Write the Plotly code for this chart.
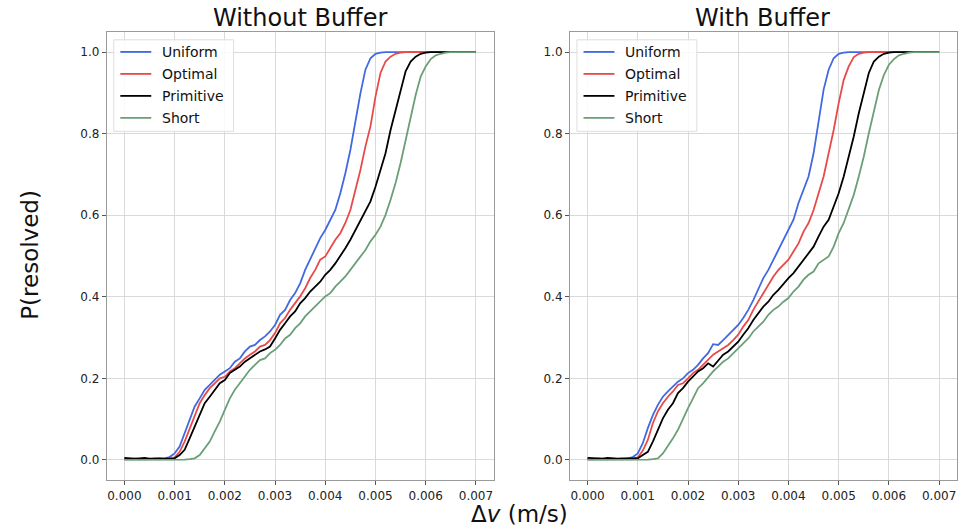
import numpy as np
import plotly.graph_objects as go

# delta-v grid (m/s), step 0.0001
dv = np.round(np.arange(0, 0.00705, 0.0001), 4)

# ---- Without Buffer ----
wo_uniform = [0.003, 0.002, 0.003, 0.002, 0.003, 0.002, 0.003, 0.003, 0.004, 0.007,
              0.016, 0.033, 0.065, 0.098, 0.131, 0.151, 0.172, 0.184, 0.196, 0.209,
              0.217, 0.225, 0.241, 0.249, 0.266, 0.278, 0.282, 0.294, 0.303, 0.315,
              0.331, 0.356, 0.368, 0.392, 0.409, 0.433, 0.466, 0.491, 0.515, 0.544,
              0.564, 0.589, 0.613, 0.654, 0.703, 0.760, 0.834, 0.899, 0.957, 0.985,
              0.996, 0.999, 1.0, 1.0, 1.0, 1.0, 1.0, 1.0, 1.0, 1.0,
              1.0, 1.0, 1.0, 1.0, 1.0, 1.0, 1.0, 1.0, 1.0, 1.0, 1.0]
wo_optimal = [0.002, 0.002, 0.003, 0.002, 0.002, 0.003, 0.002, 0.002, 0.003, 0.003,
              0.006, 0.020, 0.045, 0.078, 0.106, 0.139, 0.159, 0.176, 0.188, 0.200,
              0.204, 0.217, 0.225, 0.237, 0.249, 0.258, 0.266, 0.278, 0.282, 0.294,
              0.311, 0.335, 0.348, 0.368, 0.384, 0.401, 0.421, 0.446, 0.466, 0.491,
              0.499, 0.519, 0.540, 0.556, 0.581, 0.613, 0.662, 0.711, 0.769, 0.818,
              0.891, 0.949, 0.977, 0.989, 0.996, 0.999, 1.0, 1.0, 1.0, 1.0,
              1.0, 1.0, 1.0, 1.0, 1.0, 1.0, 1.0, 1.0, 1.0, 1.0, 1.0]
wo_primitive = [0.005, 0.004, 0.003, 0.004, 0.005, 0.003, 0.004, 0.004, 0.003, 0.004,
                0.004, 0.012, 0.025, 0.053, 0.082, 0.114, 0.139, 0.155, 0.172, 0.188,
                0.196, 0.213, 0.221, 0.229, 0.241, 0.249, 0.258, 0.266, 0.271, 0.278,
                0.298, 0.319, 0.335, 0.352, 0.364, 0.384, 0.397, 0.413, 0.425, 0.437,
                0.454, 0.466, 0.482, 0.499, 0.519, 0.540, 0.564, 0.589, 0.613, 0.634,
                0.670, 0.711, 0.752, 0.809, 0.858, 0.907, 0.953, 0.977, 0.989, 0.996,
                0.999, 1.0, 1.0, 1.0, 1.0, 1.0, 1.0, 1.0, 1.0, 1.0, 1.0]
wo_short = [0.0, 0.0, 0.0, 0.0, 0.0, 0.0, 0.0, 0.0, 0.0, 0.0,
            0.0, 0.0, 0.001, 0.002, 0.004, 0.012, 0.029, 0.045, 0.070, 0.094,
            0.123, 0.151, 0.172, 0.188, 0.204, 0.221, 0.233, 0.245, 0.249, 0.262,
            0.270, 0.282, 0.298, 0.307, 0.323, 0.335, 0.352, 0.364, 0.376, 0.388,
            0.401, 0.409, 0.425, 0.437, 0.450, 0.466, 0.482, 0.499, 0.515, 0.536,
            0.552, 0.572, 0.601, 0.638, 0.679, 0.728, 0.785, 0.842, 0.895, 0.940,
            0.965, 0.983, 0.992, 0.996, 0.999, 1.0, 1.0, 1.0, 1.0, 1.0, 1.0]

# ---- With Buffer ----
w_uniform = [0.003, 0.002, 0.003, 0.003, 0.002, 0.003, 0.003, 0.002, 0.004, 0.007,
             0.016, 0.041, 0.078, 0.110, 0.135, 0.155, 0.168, 0.180, 0.192, 0.200,
             0.213, 0.221, 0.233, 0.249, 0.262, 0.284, 0.282, 0.294, 0.307, 0.319,
             0.331, 0.348, 0.368, 0.392, 0.417, 0.446, 0.466, 0.491, 0.515, 0.540,
             0.568, 0.589, 0.630, 0.662, 0.695, 0.752, 0.826, 0.908, 0.957, 0.985,
             0.996, 0.999, 1.0, 1.0, 1.0, 1.0, 1.0, 1.0, 1.0, 1.0,
             1.0, 1.0, 1.0, 1.0, 1.0, 1.0, 1.0, 1.0, 1.0, 1.0, 1.0]
w_optimal = [0.002, 0.003, 0.002, 0.002, 0.003, 0.002, 0.002, 0.003, 0.002, 0.003,
             0.006, 0.023, 0.049, 0.090, 0.119, 0.139, 0.155, 0.168, 0.184, 0.188,
             0.200, 0.213, 0.221, 0.233, 0.245, 0.258, 0.266, 0.274, 0.282, 0.294,
             0.307, 0.327, 0.343, 0.368, 0.388, 0.409, 0.429, 0.450, 0.466, 0.478,
             0.491, 0.511, 0.531, 0.560, 0.581, 0.613, 0.654, 0.695, 0.752, 0.809,
             0.875, 0.932, 0.965, 0.988, 0.996, 0.999, 1.0, 1.0, 1.0, 1.0,
             1.0, 1.0, 1.0, 1.0, 1.0, 1.0, 1.0, 1.0, 1.0, 1.0, 1.0]
w_primitive = [0.005, 0.004, 0.004, 0.003, 0.005, 0.004, 0.003, 0.004, 0.004, 0.003,
               0.004, 0.012, 0.020, 0.045, 0.074, 0.102, 0.123, 0.139, 0.164, 0.176,
               0.192, 0.204, 0.217, 0.225, 0.237, 0.229, 0.245, 0.258, 0.266, 0.278,
               0.290, 0.307, 0.323, 0.343, 0.360, 0.376, 0.388, 0.405, 0.417, 0.433,
               0.446, 0.458, 0.474, 0.491, 0.507, 0.523, 0.548, 0.572, 0.589, 0.621,
               0.654, 0.695, 0.744, 0.793, 0.850, 0.900, 0.949, 0.977, 0.989, 0.996,
               0.999, 1.0, 1.0, 1.0, 1.0, 1.0, 1.0, 1.0, 1.0, 1.0, 1.0]
w_short = [0.0, 0.0, 0.0, 0.0, 0.0, 0.0, 0.0, 0.0, 0.0, 0.0,
           0.0, 0.0, 0.001, 0.002, 0.004, 0.016, 0.033, 0.053, 0.074, 0.102,
           0.127, 0.151, 0.176, 0.188, 0.204, 0.217, 0.229, 0.241, 0.249, 0.262,
           0.274, 0.286, 0.298, 0.315, 0.327, 0.339, 0.356, 0.368, 0.376, 0.388,
           0.397, 0.413, 0.425, 0.442, 0.454, 0.462, 0.482, 0.491, 0.499, 0.523,
           0.556, 0.581, 0.613, 0.650, 0.695, 0.744, 0.801, 0.858, 0.907, 0.944,
           0.969, 0.983, 0.992, 0.996, 0.999, 1.0, 1.0, 1.0, 1.0, 1.0, 1.0]

names = ["Uniform", "Optimal", "Primitive", "Short"]
colors = ["#4169e1", "#e84a4a", "#000000", "#6b9f78"]
panels = [
    ("x", "y", [wo_uniform, wo_optimal, wo_primitive, wo_short]),
    ("x2", "y2", [w_uniform, w_optimal, w_primitive, w_short]),
]

fig = go.Figure()
for xa, ya, series in panels:
    for name, col, ys in zip(names, colors, series):
        fig.add_trace(go.Scatter(x=dv, y=ys, mode="lines", name=name,
                                 line=dict(color=col, width=1.8),
                                 xaxis=xa, yaxis=ya, showlegend=False))

ax_style = dict(showline=True, linecolor="#9a9a9a", linewidth=1, mirror=True,
                showgrid=True, gridcolor="#d9d9d9", gridwidth=1, zeroline=False,
                ticks="outside", ticklen=4, tickcolor="#555", automargin=False,
                tickfont=dict(family="DejaVu Sans", size=12, color="#222"))

fig.update_layout(
    width=962, height=529,
    margin=dict(l=0, r=0, t=0, b=0, autoexpand=False),
    paper_bgcolor="white", plot_bgcolor="white",
    showlegend=False,
    xaxis=dict(domain=[0.111, 0.513], range=[-0.00035, 0.00735], dtick=0.001,
               tickformat=".3f", anchor="y", **ax_style),
    yaxis=dict(domain=[0.092, 0.940], range=[-0.05, 1.05], dtick=0.2,
               tickformat=".1f", anchor="x", **ax_style),
    xaxis2=dict(domain=[0.5925, 0.9945], range=[-0.00035, 0.00735], dtick=0.001,
                tickformat=".3f", anchor="y2", **ax_style),
    yaxis2=dict(domain=[0.092, 0.940], range=[-0.05, 1.05], dtick=0.2,
                tickformat=".1f", anchor="x2", **ax_style),
)

# legend boxes drawn inside each panel (one per subplot like matplotlib)
for xa, ya in [("x", "y"), ("x2", "y2")]:
    fig.add_shape(type="rect", xref=f"{xa} domain", yref=f"{ya} domain",
                  x0=0.018, x1=0.328, y0=0.778, y1=0.982,
                  line=dict(color="#dddddd", width=1), fillcolor="rgba(255,255,255,0.85)",
                  layer="above")
    for i, (name, col) in enumerate(zip(names, colors)):
        yy = 0.955 - i * 0.049
        fig.add_shape(type="line", xref=f"{xa} domain", yref=f"{ya} domain",
                      x0=0.035, x1=0.115, y0=yy, y1=yy,
                      line=dict(color=col, width=1.8), layer="above")
        fig.add_annotation(text=name, xref=f"{xa} domain", yref=f"{ya} domain",
                           x=0.138, y=yy, xanchor="left", yanchor="middle",
                           showarrow=False,
                           font=dict(family="DejaVu Sans", size=14, color="#111"))

title_font = dict(family="DejaVu Sans", size=24, color="#111")
fig.add_annotation(text="Without Buffer", xref="paper", yref="paper",
                   x=0.312, y=0.997, xanchor="center", yanchor="top",
                   showarrow=False, font=title_font)
fig.add_annotation(text="With Buffer", xref="paper", yref="paper",
                   x=0.793, y=0.997, xanchor="center", yanchor="top",
                   showarrow=False, font=title_font)
fig.add_annotation(text="Δ<i>v</i> (m/s)", xref="paper", yref="paper",
                   x=0.54, y=0.0, xanchor="center", yanchor="bottom",
                   showarrow=False, font=dict(family="DejaVu Sans", size=23, color="#111"))
fig.add_annotation(text="P(resolved)", xref="paper", yref="paper",
                   x=0.031, y=0.518, xanchor="center", yanchor="middle",
                   textangle=-90, showarrow=False,
                   font=dict(family="DejaVu Sans", size=23, color="#111"))

# drop the default body margin so the figure fills the window exactly
fig.write_html("out.html", config={"displayModeBar": False},
               post_script="document.body.style.margin='0';")
